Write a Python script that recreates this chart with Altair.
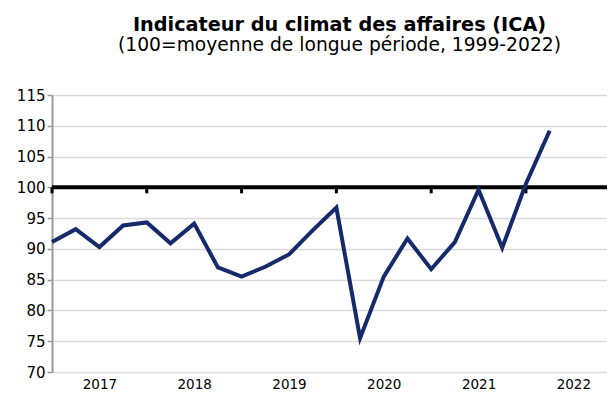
import altair as alt
import pandas as pd

# Quarterly values of the ICA (2017T1 .. 2022T2)
quarters = ["2017T1", "2017T2", "2017T3", "2017T4",
            "2018T1", "2018T2", "2018T3", "2018T4",
            "2019T1", "2019T2", "2019T3", "2019T4",
            "2020T1", "2020T2", "2020T3", "2020T4",
            "2021T1", "2021T2", "2021T3", "2021T4",
            "2022T1", "2022T2"]
ica = [91.1, 93.2, 90.3, 93.8,
       94.3, 90.9, 94.1, 87.0,
       85.5, 87.1, 89.1, 93.0,
       96.7, 75.5, 85.5, 91.7,
       86.7, 91.1, 99.6, 90.2,
       100.6, 109.2]
years = [2017, 2018, 2019, 2020, 2021, 2022]
y_ticks = [70, 75, 80, 85, 90, 95, 100, 105, 110, 115]
reference_level = 100

FONT = "DejaVu Sans"
W, H = 555, 277
XMAX = 23.42

idx = [(int(q[:4]) - years[0]) * 4 + int(q[-1]) - 1 for q in quarters]
df = pd.DataFrame({"idx": idx, "v": ica, "q": quarters})
year_mid = [(y - years[0]) * 4 + 2 for y in years]
year_start = pd.DataFrame({"idx": [(y - years[0]) * 4 for y in years if (y - years[0]) * 4 < XMAX]})

xscale = alt.Scale(domain=[0, XMAX], nice=False, zero=False)
yscale = alt.Scale(domain=[70, 115], nice=False, zero=False)

x_axis = alt.Axis(values=year_mid,
                  labelExpr=f"'' + ({years[0]} + (datum.value - 2) / 4)",
                  grid=False, domain=False, ticks=False, tickSize=0,
                  title=None, labelFont=FONT, labelFontSize=13.5,
                  labelColor="black", labelPadding=5, labelOverlap=False)
y_axis = alt.Axis(values=y_ticks, grid=True, gridColor="#d9d9d9", gridWidth=1.5,
                  domain=True, domainColor="#999999", domainWidth=2,
                  ticks=True, tickColor="#999999", tickSize=5, tickWidth=1.5,
                  labelFont=FONT, labelFontSize=15, labelColor="black",
                  labelPadding=2, labelOverlap=False, title=None)

X = alt.X("idx:Q", scale=xscale, axis=x_axis)
Y = alt.Y("v:Q", scale=yscale, axis=y_axis)

base = alt.Chart(df)

ref_line = alt.Chart(pd.DataFrame({"v": [reference_level]})).mark_rule(
    color="black", strokeWidth=4
).encode(y=Y, x=alt.value(0), x2=alt.value(W))

ref_ticks = alt.Chart(year_start).mark_rule(color="black", strokeWidth=3).encode(
    x=X,
    y=alt.value((115 - reference_level) / 45 * H),
    y2=alt.value((115 - reference_level) / 45 * H + 6),
)

line = base.mark_line(color="#15296b", strokeWidth=4).encode(x=X, y=Y)

chart = alt.layer(ref_line, ref_ticks, line).properties(
    width=W, height=H,
    title=alt.TitleParams(
        text="Indicateur du climat des affaires (ICA)",
        subtitle="(100=moyenne de longue période, 1999-2022)",
        font=FONT, fontSize=19.25, fontWeight="bold", color="black",
        subtitleFont=FONT, subtitleFontSize=18.7, subtitleColor="black",
        subtitlePadding=1, anchor="middle", dx=10, offset=33,
    ),
    autosize=alt.AutoSizeParams(type="none"),
    padding={"left": 44, "top": 87, "right": 0, "bottom": 21},
).configure_view(stroke=None)

chart.save("out.html", embed_options={"renderer": "svg", "actions": False})
